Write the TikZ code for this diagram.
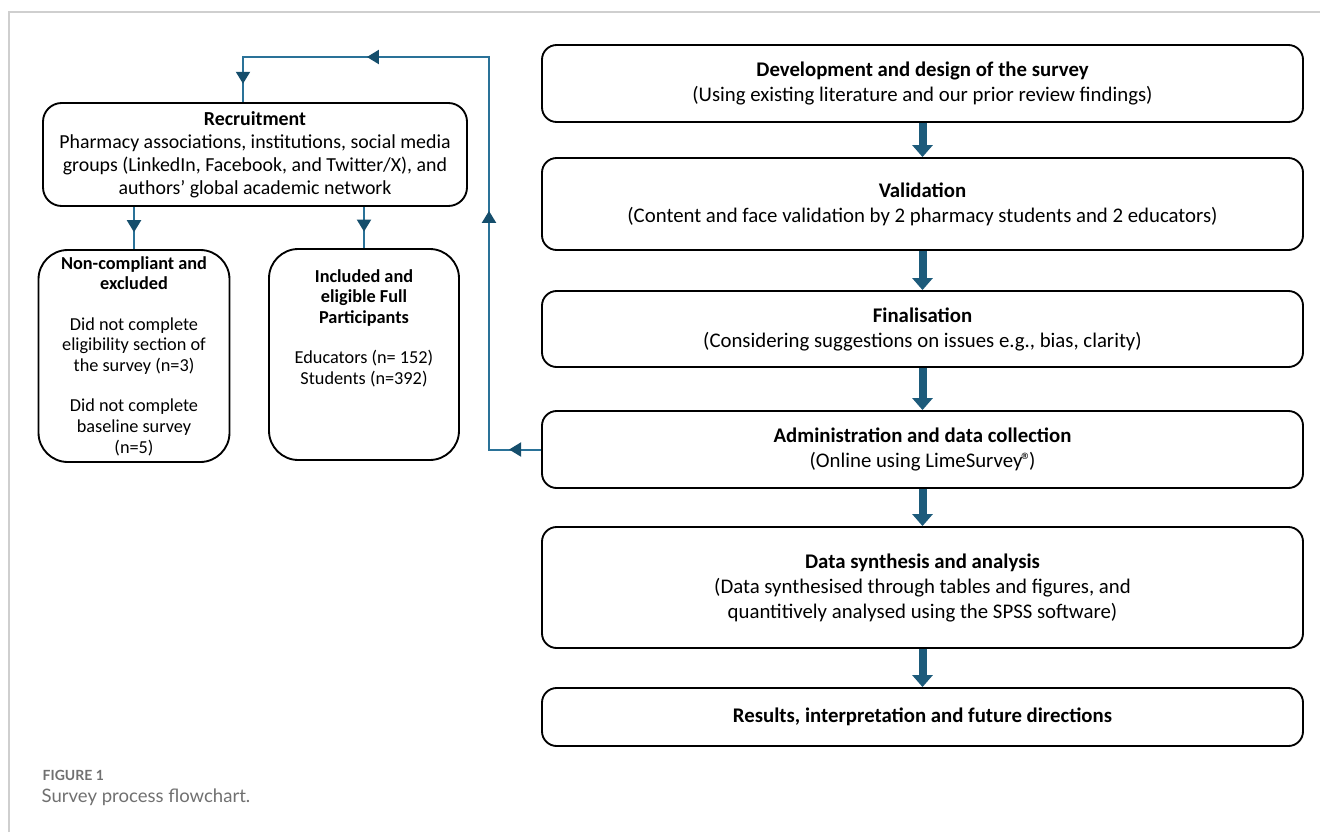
\documentclass[tikz,border=0pt]{standalone}
\usepackage{fontspec}
\setmainfont{Carlito}
\newfontfamily\capfont{Lato}
\usetikzlibrary{arrows.meta,decorations.markings}

\definecolor{flowblue}{HTML}{1D5B7B}
\definecolor{loopblue}{HTML}{2A7298}
\definecolor{tipblue}{HTML}{154E6C}
\definecolor{framegray}{HTML}{CFCFCF}
\definecolor{capgray}{HTML}{707070}

\tikzset{
 stage/.style={draw, line width=1.4pt, rounded corners=11pt, minimum width=570.75pt,
  align=center, font=\fontsize{15.6}{18.75}\selectfont},
 sidebox/.style={draw, line width=1.4pt, rounded corners=22pt, align=center,
  font=\fontsize{13.7}{15.4}\selectfont},
 blockarrow/.style={flowblue, line width=6pt, -{Triangle[length=9pt,width=15pt]}},
 loopline/.style={loopblue, line width=1.5pt},
 midtip/.style={postaction={decorate}, decoration={markings,
  mark=at position #1 with {\arrow[tipblue]{Triangle[length=9pt,width=10.5pt]}}}}
}

\begin{document}
\begin{tikzpicture}[x=0.75pt,y=-0.75pt]
\useasboundingbox (0,0) rectangle (1320,832);
\draw[framegray, line width=1.2pt] (9,832) -- (9,12) -- (1320,12);

% main stages
\node[stage, minimum height=57.75pt] (design) at (922.5,83.5)
 {\textbf{Development and design of the survey}\\(Using existing literature and our prior review findings)};
\node[stage, minimum height=69pt] (valid) at (922.5,204)
 {\textbf{Validation}\\(Content and face validation by 2 pharmacy students and 2 educators)};
\node[stage, minimum height=57pt] (final) at (922.5,329)
 {\textbf{Finalisation}\\(Considering suggestions on issues e.g., bias, clarity)};
\node[stage, minimum height=57.75pt] (admin) at (922.5,449.5)
 {\textbf{Administration and data collection}\\(Online using LimeSurvey\kern-1pt®\kern-2pt)};
\node[stage, minimum height=90.75pt] (synth) at (922.5,587.5)
 {\textbf{Data synthesis and analysis}\\(Data synthesised through tables and figures, and\\quantitively analysed using the SPSS software)};
\node[stage, minimum height=43.5pt] (results) at (922.5,717)
 {\textbf{Results, interpretation and future directions}};

\foreach \a/\b in {design/valid,valid/final,final/admin,admin/synth,synth/results}
 \draw[blockarrow] (\a.south) -- (\b.north);

% recruitment side
\node[sidebox, rounded corners=14pt, minimum width=318pt, minimum height=77.25pt,
 font=\fontsize{14.9}{17.25}\selectfont] (recruit) at (255,154.5)
 {\textbf{Recruitment}\\Pharmacy associations, institutions, social media\\groups (LinkedIn, Facebook, and Twitter/X), and\\authors’ global academic network};

\node[sidebox, minimum width=143.25pt, minimum height=159pt] (excl) at (134,356)
 {\textbf{Non-compliant and}\\\textbf{excluded}\\[15pt]Did not complete\\eligibility section of\\the survey (n=3)\\[15pt]Did not complete\\baseline survey\\(n=5)};
\node[sidebox, minimum width=142.5pt, minimum height=158.25pt] (incl) at (364,354.5)
 {\textbf{Included and}\\\textbf{eligible Full}\\\textbf{Participants}\\[15pt]Educators (n= 152)\\Students (n=392)\\[26pt]\mbox{}};

\draw[loopline, midtip=0.6] (excl.north |- recruit.south) -- (excl.north);
\draw[loopline, midtip=0.6] (incl.north |- recruit.south) -- (incl.north);

\coordinate (loopA) at (489,57);
\coordinate (loopB) at (243,57);
\draw[loopline, postaction={decorate}, decoration={markings,
 mark=at position 24pt with {\arrow[tipblue]{Triangle[length=9pt,width=10.5pt]}},
 mark=at position 218pt with {\arrow[tipblue]{Triangle[length=9pt,width=10.5pt]}},
 mark=at position 425pt with {\arrow[tipblue]{Triangle[length=9pt,width=10.5pt]}},
 mark=at position 538pt with {\arrow[tipblue]{Triangle[length=9pt,width=10.5pt]}}}]
 (admin.west) -| (loopA) -- (loopB) -- (loopB |- recruit.north);

% caption
\node[anchor=west, text=capgray, font=\capfont\bfseries\fontsize{10.5}{12}\selectfont] (figno) at (38,775) {FIGURE 1};
\node[anchor=west, text=capgray, font=\capfont\fontsize{13.9}{16}\selectfont] (figcap) at (37,797) {Survey process flowchart.};
\end{tikzpicture}
\end{document}
